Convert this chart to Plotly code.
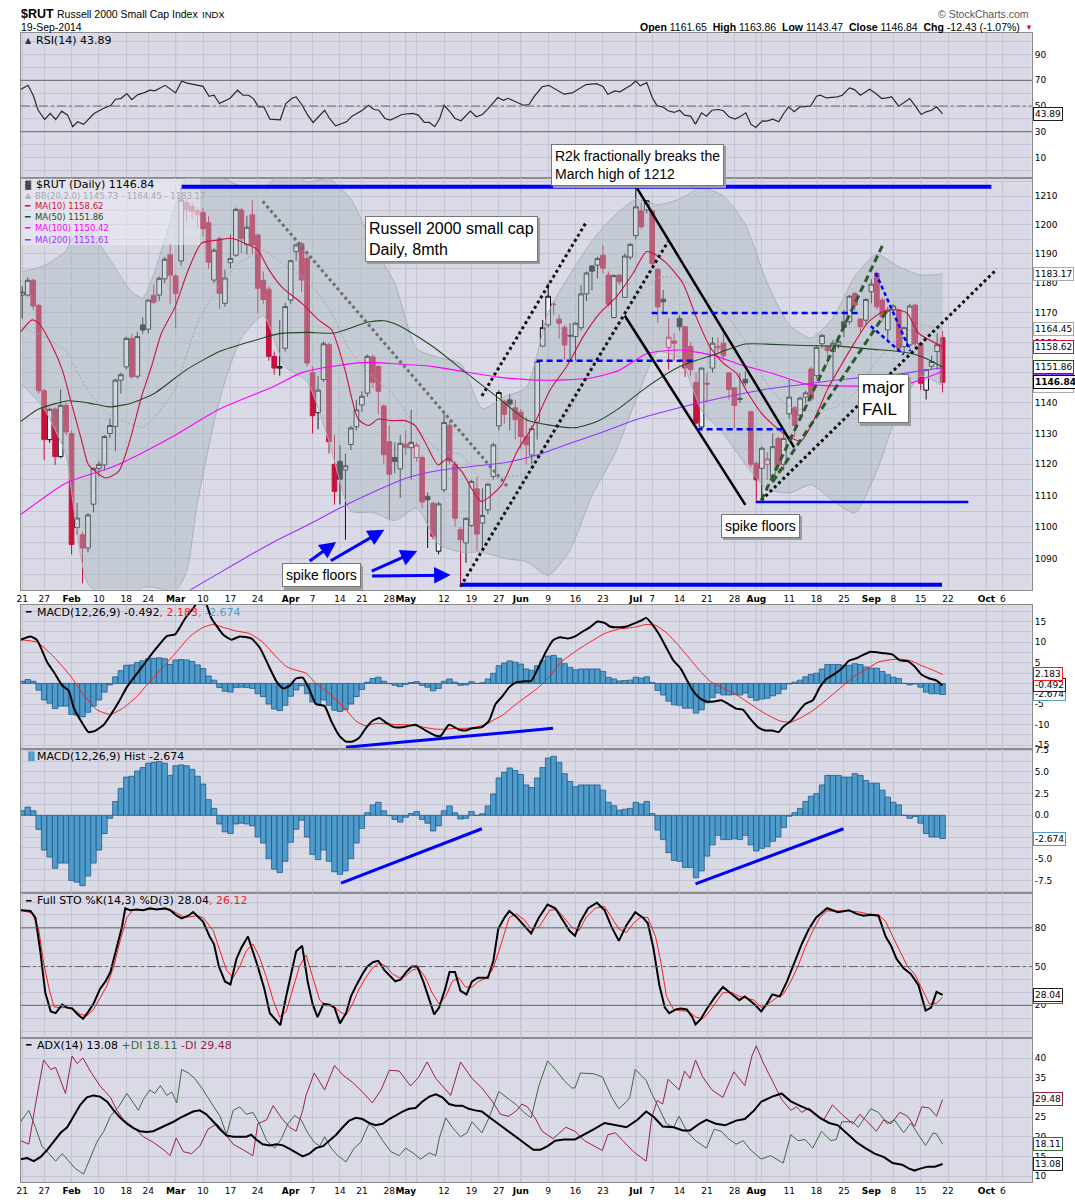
import math
import plotly.graph_objects as go

W, H = 1075, 1200

# ---------------------------------------------------------------- data
# trading-day index: 0 = 21 Jan 2014 ... 168 = 19 Sep 2014
OPEN = [1176, 1176, 1181, 1172.5, 1144, 1128, 1138, 1122.5, 1139.2, 1130,
        1099.8, 1097.5, 1093.3, 1107.2, 1118.7, 1119.8, 1130, 1132.3, 1147.5, 1151.9,
        1161.4, 1148.8, 1165.9, 1164.5, 1175.9, 1176, 1181.5, 1189.7, 1182.5, 1187.6,
        1207.7, 1206.5, 1205, 1204.3, 1200.8, 1181.1, 1195.3, 1173.2, 1187, 1189.6,
        1205.2, 1193.2, 1203.5, 1196.5, 1181, 1178, 1155.4, 1151.5, 1158.1, 1174.3,
        1190.8, 1193.5, 1188.5, 1150, 1136.8, 1147.7, 1159.3, 1120, 1121, 1118.2,
        1126.4, 1132.2, 1139.3, 1143.2, 1155.2, 1152, 1139, 1127.3, 1122.2, 1118.5,
        1126.5, 1125.4, 1122.2, 1122.2, 1109.7, 1107.5, 1092.3, 1111.8, 1132.7, 1120,
        1099.1, 1094.9, 1100.4, 1112.1, 1101.2, 1105.4, 1116.1, 1132.5, 1140.5, 1141,
        1138.4, 1137, 1129, 1123, 1133.7, 1158.8, 1165.9, 1172.8, 1167.8, 1165.1,
        1162.4, 1162, 1165, 1176.4, 1185.9, 1186.2, 1189.6, 1182.8, 1168.4, 1182.8,
        1175.2, 1188.9, 1196.3, 1204.9, 1205.2, 1205, 1184.8, 1174.6, 1158.4, 1160.5,
        1168.1, 1165.3, 1158.7, 1146.8, 1132.1, 1146.5, 1151.5, 1158.2, 1159.8, 1149.9,
        1145, 1141.5, 1147.8, 1137.1, 1120.3, 1118.7, 1120, 1116, 1128.4, 1120,
        1136.4, 1138.4, 1136, 1141.9, 1151.2, 1149, 1159.6, 1158.7, 1157, 1159.2,
        1167, 1167, 1176.5, 1167.9, 1167.5, 1177.1, 1183.4, 1174.3, 1164.2, 1171,
        1170.9, 1158.7, 1159.2, 1172.6, 1159.6, 1144.2, 1152.1, 1157, 1161.65]
HIGH = [1179, 1182, 1181.5, 1173, 1144.5, 1138.5, 1138.5, 1144.4, 1140, 1131,
        1107.6, 1098.5, 1104.3, 1119, 1121, 1129.5, 1135, 1148, 1150, 1162,
        1163, 1163.6, 1168.4, 1174.5, 1179.4, 1182.3, 1189, 1193.8, 1183, 1212.8,
        1209, 1208, 1206, 1206, 1203, 1192, 1196, 1184.6, 1196.7, 1206,
        1206, 1203.2, 1208.6, 1197, 1184, 1179, 1157, 1167.6, 1173.4, 1188,
        1193.7, 1194.2, 1190, 1152, 1148.8, 1160.4, 1160, 1129.5, 1126.2, 1123.5,
        1132.5, 1141, 1143.8, 1156, 1156, 1152.5, 1139.5, 1132.6, 1127.1, 1129.5,
        1131, 1137.7, 1127, 1123, 1111, 1108, 1108, 1136.8, 1134, 1121,
        1100, 1103, 1115, 1116, 1112.3, 1114, 1127, 1144.1, 1141, 1143,
        1141, 1138, 1135.4, 1132.6, 1153.7, 1167.6, 1180, 1174, 1169.4, 1165.8,
        1166.5, 1166.8, 1179.4, 1184, 1186.2, 1189.1, 1193.1, 1184, 1183, 1183,
        1190.2, 1193.7, 1213.5, 1207.7, 1208.6, 1205.2, 1185.1, 1177.7, 1168.1, 1163,
        1169.2, 1165.5, 1160, 1150, 1151.5, 1150, 1161.8, 1161.8, 1163.1, 1150,
        1145.2, 1149.9, 1150.4, 1137.5, 1121, 1125.7, 1124, 1130, 1129, 1131.6,
        1147.7, 1139, 1142, 1144, 1152, 1159, 1163, 1159, 1160.9, 1161,
        1170.9, 1176, 1177.1, 1168, 1174.9, 1181.4, 1184, 1175, 1172, 1173,
        1171.5, 1165.3, 1173, 1173, 1160, 1151, 1155.6, 1163.1, 1163.86]
LOW = [1168, 1175.5, 1171, 1143, 1121.4, 1127, 1119.8, 1122, 1129.5, 1091.3,
       1097.5, 1082.2, 1092, 1104.6, 1116, 1118, 1128.5, 1124.3, 1143, 1151,
       1148, 1148, 1163, 1163, 1173, 1174, 1180, 1173, 1164.8, 1186,
       1201, 1202, 1199, 1196, 1185, 1180, 1171.4, 1172, 1185, 1189,
       1190.3, 1189.8, 1190, 1169.8, 1173, 1154, 1149.3, 1149, 1157, 1173,
       1187.7, 1177, 1152, 1130, 1131.4, 1147, 1123.5, 1107.1, 1107.1, 1095.9,
       1124.6, 1131, 1137, 1142, 1145, 1136.3, 1120, 1102.2, 1117.1, 1109.2,
       1123, 1115, 1120.9, 1106, 1093.3, 1096, 1091.3, 1111, 1120, 1100,
       1081.2, 1088.7, 1100, 1092.3, 1093.3, 1104, 1115, 1131, 1133.2, 1131,
       1128, 1125, 1120, 1120, 1128, 1158.5, 1165, 1169.2, 1161.4, 1154.3,
       1154.3, 1154, 1164, 1174, 1177.6, 1181.6, 1183.4, 1172, 1168.1, 1179.5,
       1175, 1188, 1195, 1198.5, 1204, 1186, 1166.7, 1170, 1151, 1154,
       1164, 1148.6, 1148.8, 1133, 1131.6, 1140, 1150, 1156, 1154, 1141.1,
       1131.8, 1140, 1145.5, 1119, 1108.1, 1108.6, 1115, 1114, 1117, 1118,
       1134.7, 1128.9, 1135, 1140, 1140.5, 1148, 1158, 1152.6, 1147.7, 1158,
       1161.8, 1166, 1170.9, 1163.6, 1166, 1173.2, 1171, 1167, 1160.3, 1169,
       1157, 1156.5, 1158, 1158, 1144.2, 1141.1, 1151, 1151, 1143.47]
CLOSE = [1177, 1181, 1172.3, 1144, 1128, 1137.9, 1122.5, 1139.2, 1130.5, 1094.4,
         1102.8, 1093.3, 1103.8, 1118.7, 1120, 1129, 1132.6, 1147.5, 1149.3, 1161.4,
         1148.6, 1162, 1164.2, 1174.3, 1173.6, 1181.7, 1188.2, 1182.8, 1176.6, 1208.6,
         1205.2, 1204.6, 1203.5, 1198.7, 1187.2, 1191.3, 1176.6, 1181.8, 1188.5, 1205.4,
         1195.4, 1199.2, 1193.1, 1178.3, 1174.5, 1155.4, 1151.5, 1152, 1172.1, 1187.7,
         1193.1, 1181.1, 1153.2, 1135.8, 1144.2, 1159.6, 1127.3, 1111.3, 1115.2, 1119.5,
         1131.8, 1137.7, 1142.2, 1155.4, 1146.8, 1143.8, 1123.1, 1116.8, 1120.9, 1126.8,
         1125.5, 1127.1, 1126.2, 1107.9, 1108.6, 1097, 1107.3, 1133.6, 1121.1, 1102.7,
         1095.9, 1102.7, 1114.5, 1097.7, 1103.6, 1113.6, 1126.3, 1143.4, 1136.3, 1139.6,
         1134.5, 1129, 1126.3, 1131.6, 1153.7, 1165, 1175.6, 1172.9, 1166.5, 1159.2,
         1162.2, 1166.5, 1176.4, 1183.5, 1184.1, 1188.4, 1185.1, 1172.9, 1182.6, 1180.5,
         1189.3, 1193.3, 1206.3, 1199.4, 1208.4, 1186.7, 1172, 1173.7, 1161.8, 1159.8,
         1165.3, 1151.5, 1151, 1133.4, 1151.5, 1146.2, 1159.8, 1158.7, 1155.6, 1144.4,
         1139.2, 1141.2, 1146.6, 1120, 1115, 1125.2, 1121.7, 1125.7, 1119.8, 1128.4,
         1141.9, 1132.6, 1141.6, 1143.3, 1141.3, 1158.4, 1162.4, 1157.3, 1159.8, 1160.3,
         1165.1, 1175.6, 1172.6, 1165.3, 1174.5, 1179.7, 1172, 1168.6, 1170.9, 1172.3,
         1158.1, 1165, 1172.3, 1159.6, 1146.5, 1151, 1153.7, 1159.27, 1146.84]

# Bollinger bands (20,2)
BB_X = [0, 4, 8, 9, 12, 16, 20, 22, 24, 28, 30, 32, 36, 40, 44, 48, 52, 56, 60, 64,
        68, 72, 76, 80, 84, 88, 92, 96, 100, 104, 108, 112, 116, 120, 124, 128, 132,
        136, 140, 144, 148, 152, 156, 160, 164, 168]
BB_UP = [1184, 1186, 1191, 1195, 1198, 1188, 1177, 1175, 1183, 1207, 1217, 1224, 1217,
         1213.5, 1213, 1219, 1215, 1216, 1209, 1193, 1180, 1158, 1155, 1153, 1138, 1142,
         1145, 1170, 1183, 1194.5, 1203, 1208.8, 1207, 1209, 1213, 1210, 1200, 1180,
         1166, 1161.5, 1168.3, 1182.4, 1189.9, 1185.6, 1182.8, 1183.17]
BB_MID = [1165, 1162, 1157, 1154, 1144, 1136, 1133, 1132, 1135, 1145, 1156, 1166.6,
          1179.3, 1187.5, 1191.1, 1186.1, 1180.8, 1171.5, 1156.8, 1148.6, 1142.3, 1131.9,
          1124.5, 1123.3, 1115.1, 1115.9, 1117.1, 1127.3, 1137.7, 1152.3, 1162.8, 1174.8,
          1181.8, 1181.8, 1175.6, 1170.2, 1160.3, 1146.1, 1138.8, 1137.4, 1138.3, 1143.4,
          1153.9, 1161.6, 1165.8, 1164.45]
BB_LO = [1146, 1138, 1123, 1111, 1082, 1078, 1079, 1081, 1081, 1080, 1086, 1108, 1141,
         1161.5, 1169, 1152, 1147, 1127.5, 1105, 1104.6, 1102, 1106, 1094.5, 1092, 1092,
         1090, 1089, 1084.7, 1092.7, 1110, 1122.8, 1140.8, 1156.8, 1154.8, 1137.6, 1130,
         1120, 1112, 1110.8, 1113.4, 1108.3, 1104.4, 1117.9, 1137.6, 1148.8, 1145.73]

MA10_X = [-0.5, 1.8, 3, 5.5, 7.3, 9.1, 10.9, 12.1, 15.2, 17.6, 19.4, 21.8, 23.6, 25.4,
          27.9, 30.3, 32.7, 35.8, 38.2, 40.6, 43, 44.9, 47.3, 51.1, 54.1, 56.5, 58.9,
          61.3, 63.2, 65, 67.4, 69.9, 71.7, 73.5, 75.9, 77.7, 80.2, 83.8, 87.5, 90.3,
          93.3, 96.4, 99.4, 102.4, 105.4, 108.5, 111.5, 113.9, 115.2, 117.6, 120.6, 123,
          125.5, 127.9, 130.3, 132.4, 134.8, 137.3, 139.7, 142.2, 144.6, 147, 149.4,
          151.9, 154.3, 156.7, 159.1, 161.5, 163.6, 168]
MA10_Y = [1163.1, 1167.6, 1166.5, 1158.7, 1151, 1139, 1127.3, 1119.8, 1115.6, 1117.7,
          1126.2, 1142.2, 1152.1, 1163.1, 1172, 1184.5, 1193.7, 1194.8, 1195.4, 1193.7,
          1191.4, 1185, 1178.9, 1173.1, 1167.6, 1164.2, 1151, 1134.7, 1132.6, 1134.7,
          1134.2, 1134.2, 1132.6, 1127.3, 1119.8, 1121.9, 1117.7, 1108.1, 1113.3, 1124.1,
          1132.6, 1144.4, 1152.1, 1162, 1169.8, 1175.5, 1183.4, 1190.8, 1190.2, 1186.9,
          1180, 1168.7, 1158.7, 1153.2, 1149.9, 1143.4, 1136.9, 1132.5, 1129.2, 1127.6,
          1134.7, 1144.5, 1152.2, 1159.9, 1166.6, 1170, 1171.1, 1170, 1163.2, 1158.62]
MA50_X = [-0.5, 3, 8.5, 12, 16, 20, 24, 30, 36, 42, 47, 52, 57, 63, 66, 69, 75, 81, 87,
          92, 96, 101, 105, 109, 114, 120, 126, 132, 137, 143, 149, 155, 160, 163, 166, 168]
MA50_Y = [1133.6, 1138, 1140.7, 1140, 1138.7, 1140, 1143, 1151, 1157, 1160.5, 1163,
          1163.4, 1163.2, 1166.8, 1167.3, 1165.5, 1158.6, 1150, 1141.5, 1134.5, 1132.8,
          1131.9, 1134, 1138.3, 1145.2, 1152, 1155.8, 1159.5, 1159.4, 1159, 1158.8,
          1157.8, 1157, 1156, 1153.8, 1151.86]
MA100_X = [-0.5, 8, 17, 27, 36, 46, 51, 57, 63, 69, 75, 81, 87, 93, 99, 104, 109, 114,
           120, 126, 131, 137, 143, 149, 155, 162, 168]
MA100_Y = [1103.6, 1114, 1119.5, 1128.5, 1138, 1145.5, 1150, 1152.2, 1153.4, 1152.8,
           1152, 1150.2, 1148.5, 1147.6, 1147.6, 1148.3, 1150.8, 1156.3, 1157.5, 1155.8,
           1152.7, 1149.7, 1146.2, 1145.6, 1145.6, 1146.4, 1150.42]
MA200_X = [30, 36, 41, 46, 52, 58, 64, 70, 76, 82, 88, 94, 100, 106, 112, 118, 124, 130,
           136, 142, 148, 154, 160, 164, 168]
MA200_Y = [1079.5, 1085.5, 1090.5, 1095.3, 1100.5, 1106, 1111, 1115.5, 1118, 1119.3,
           1120.5, 1123, 1126.8, 1130.5, 1134.5, 1137.5, 1140.2, 1142.5, 1144.6, 1146,
           1147.4, 1148.5, 1149.5, 1150.6, 1151.61]

RSI_X = [-0.3, 1.05, 2, 2.9, 4.1, 5.1, 6.1, 7.2, 8.3, 9.2, 10.1, 11.2, 13.1, 14.8, 16.2,
         17, 18, 19.1, 20, 21.1, 22.2, 23.3, 24.2, 26.1, 28, 29.1, 29.9, 33, 34.1, 35, 36,
         38, 39.3, 40.3, 41.3, 42.2, 43.1, 44.1, 45.2, 46.1, 47.1, 48.1, 49.3, 50, 51.1,
         52.1, 53.1, 55.2, 56.1, 57.2, 58.2, 59.2, 60.2, 62.1, 63.2, 64.2, 65.1, 66.2,
         67.2, 69.3, 71.3, 72.3, 73.4, 74.3, 75.3, 76.2, 77, 78.1, 79, 80.1, 81.8, 82.9,
         84, 85.1, 86.8, 87.8, 88.7, 90.6, 91.5, 92.5, 93.4, 94.9, 96.1, 98.9, 100.4,
         102.9, 104.8, 106, 106.9, 108.2, 109.1, 111.1, 112, 112.8, 114, 115, 115.9,
         116.9, 117.9, 119, 120, 120.9, 122, 122.9, 124, 124.9, 125.9, 127.1, 128, 129,
         130.1, 131, 132.1, 133, 133.9, 135.1, 135.9, 137, 138.1, 139, 139.9, 140.9, 142,
         143.9, 145, 145.7, 146.8, 148.8, 149.7, 151, 151.9, 153, 154.7, 155.8, 156.9,
         157.8, 158.7, 160, 160.9, 162, 163, 164.1, 165, 166, 166.9, 168]
RSI_Y = [62.8, 66.1, 58.4, 46.7, 39.5, 44.2, 39.5, 46, 42.9, 33.9, 37.7, 35.7, 44.2, 48.1,
         50.6, 55.3, 55.8, 59.7, 55, 58.9, 60.2, 62.3, 61.8, 66.1, 60.2, 69.5, 68, 65.3,
         57.6, 58.4, 51.9, 56.3, 62.3, 58.4, 58.4, 55.8, 49.4, 49.4, 39.8, 39.3, 39.3,
         51.9, 56.3, 57.1, 50.6, 42.9, 37.2, 46.7, 40.3, 34.6, 36.4, 37.7, 42.1, 46.7,
         50.6, 47.3, 46.7, 40.3, 39, 43.4, 44.2, 42.9, 37.2, 37.2, 33.9, 40.3, 50.6, 45.5,
         40.3, 38.5, 46, 41.6, 43.4, 48.1, 56.6, 54.5, 56, 52.5, 50.6, 51.2, 57.1, 65,
         66.1, 59.2, 60.2, 66.7, 67.4, 65.3, 59.2, 61.8, 61, 66.1, 69.5, 65.7, 68.2, 56.6,
         50.1, 49.4, 46.3, 45, 46.7, 42.9, 42.1, 35.9, 44.7, 42.1, 46.7, 47.3, 46.3, 41.6,
         39.8, 41.6, 44.7, 35.9, 33.3, 38.5, 38.3, 39.8, 37.7, 44.2, 49.4, 45.5, 49.4,
         49.9, 57.6, 58.4, 56.3, 57.1, 58.4, 64.1, 62.8, 58.4, 63, 59.7, 55.8, 56.3, 57.1,
         49.9, 52.5, 55.8, 50.1, 43.4, 45.5, 46.7, 49.4, 43.89]

MACD_X = [-0.3, 1.5, 2.7, 4.6, 5.8, 7.3, 8.5, 9.4, 10.9, 12.1, 13.3, 14.9, 16.1, 17.6,
          19.1, 20.9, 22.7, 24.5, 26.4, 27.9, 29.7, 31.2, 32.5, 33.5, 34.5, 36.7, 38.2,
          39.7, 41.8, 43.4, 44.9, 46.4, 47.6, 48.8, 50, 51.2, 52.4, 53.6, 55.2, 56.4, 57.9,
          59.1, 60.3, 61.5, 62.7, 63.9, 65.2, 66.4, 67.9, 69.4, 71.8, 73.6, 75.5, 76.4,
          77.9, 79.7, 80.9, 82.1, 83.9, 85.2, 86.4, 87.6, 88.9, 90.2, 91.6, 92.9, 94.3,
          95.6, 96.9, 98.2, 99.6, 100.9, 102.2, 103.6, 105, 106.3, 107.3, 108.9, 110.3,
          111.6, 112.9, 113.9, 114.9, 116.3, 117.6, 118.9, 120.2, 121.3, 122.3, 123.6,
          124.9, 126.3, 127.6, 128.9, 130.3, 131.6, 132.9, 134.3, 135.6, 136.9, 138.1,
          138.9, 140.3, 141.6, 142.9, 144.3, 145.6, 146.9, 148.3, 149.6, 150.9, 152.3,
          153.6, 154.9, 156.3, 157.6, 158.9, 160.2, 161.6, 162.9, 164.2, 165.6, 166.9, 168]
MACD_Y = [10.6, 11.4, 10.5, 5, 2.7, -0.5, -1.8, -5.9, -9.5, -11.8, -11.5, -10, -7.7, -4.5,
          -0.9, 2.3, 5.5, 8.6, 11.5, 11.9, 15.7, 18.2, 20.5, 19.5, 15.9, 11.8, 10.6, 11.4,
          10.9, 8.6, 4.5, 0.5, -1.2, -0.6, 1.2, 1.4, -1.4, -5, -5.5, -9.1, -12.7, -14.1,
          -14.1, -13.2, -10.9, -9.1, -8.4, -9.5, -10.6, -10.6, -10, -11.4, -12.7, -12.7,
          -10, -11.2, -11.4, -10.9, -10.6, -9.1, -5, -3.2, -0.9, 0.3, 0.5, 0.6, 4.1, 7.7,
          10.5, 11.2, 10.9, 11.4, 12.5, 13.6, 15, 14.7, 13.8, 13.6, 13.8, 14.5, 15.2, 15.9,
          14.5, 11.8, 8.6, 5.5, 3.6, 0.9, -1.5, -3.5, -4.4, -4.4, -4.1, -5, -6.1, -6.4,
          -8.6, -10.6, -11.4, -11.4, -11.8, -10.5, -9.1, -7, -5, -4.1, -0.9, 1.2, 2.3, 3.6,
          5.5, 6.1, 7, 7.7, 7.5, 7.3, 7, 5.6, 5.4, 4.1, 2.1, 1.2, 0.7, -0.492]
SIG_X = [-0.3, 2.7, 5.8, 8.8, 11.2, 13.6, 16.1, 18.5, 20.9, 23.3, 25.8, 28.2, 30.6, 33,
         34.9, 36.7, 39.1, 41.5, 43.9, 46.4, 48.2, 50, 51.8, 53.6, 55.5, 57.3, 59.1, 60.9,
         62.7, 64.5, 66.4, 68.2, 70, 71.8, 73.6, 75.5, 77.3, 79.1, 80.9, 82.7, 84.6, 86.4,
         87.6, 89.6, 91.6, 94.3, 96.3, 98.2, 100.9, 103.6, 106.3, 108.9, 111.6, 113.9,
         115.6, 117.6, 119.6, 121.6, 123.6, 125.6, 127.6, 130.3, 132.9, 135.6, 138.3,
         140.3, 142.3, 144.3, 146.3, 148.3, 150.3, 152.3, 154.3, 156.3, 158.3, 160.2,
         162.2, 164.2, 166.3, 168]
SIG_Y = [10.6, 10, 6.4, 1.8, -2.7, -6.4, -7.5, -5.9, -3.2, 0.5, 4.1, 7.7, 11.4, 13.6,
         14.3, 13.6, 12.7, 12.1, 10, 6.4, 4.1, 3.2, 2.5, 0, -1.8, -4.1, -6.4, -9.1, -10.3,
         -9.7, -9.8, -10, -10, -10.3, -10.7, -11.1, -11.1, -10.9, -10.9, -10.6, -10, -8.6,
         -7.8, -5.6, -3.6, -0.9, 1.8, 5, 7.7, 10, 12.1, 13.2, 13.6, 14.3, 14.1, 12.3, 9.5,
         6.4, 3.2, 0.5, -0.9, -2.7, -5, -7.3, -9.1, -9.4, -8.2, -6.6, -4.5, -2.3, 0, 2.1,
         3.6, 5.2, 5.7, 5.9, 5.5, 4.3, 3.2, 2.183]
HIST = [0.52, 0.95, 0.52, -1.64, -4.0, -4.8, -6.1, -5.5, -5.5, -7.5,
        -7.7, -8.1, -7.0, -5.5, -4.0, -2.1, -0.35, 1.6, 3.1, 4.4,
        4.5, 5.1, 5.5, 6.0, 6.1, 6.2, 6.0, 4.6, 5.7, 5.8,
        5.7, 5.3, 4.5, 3.6, 1.8, 0.8, -1.0, -1.9, -2.1, -1.0,
        -0.9, -1.0, -1.2, -2.5, -3.2, -5.0, -6.2, -6.6, -5.3, -3.1,
        -1.6, -0.56, -2.5, -4.5, -5.1, -4.0, -5.3, -6.5, -6.8, -6.4,
        -5.0, -3.2, -1.5, 0.3, 1.2, 1.5, 0.52, -0.04, -0.47, -0.78,
        -0.22, 0.22, 0.43, -0.47, -0.91, -1.8, -1.2, 0.52, 1.08, 0.3,
        -0.43, -0.35, 0.43, 0.0, 0.17, 1.08, 2.46, 4.3, 4.95, 5.45,
        5.15, 4.7, 3.5, 3.2, 4.3, 5.5, 6.6, 6.8, 6.1, 4.8,
        3.9, 3.3, 3.5, 3.5, 3.5, 3.5, 2.9, 1.5, 1.1, 0.6,
        0.7, 0.8, 1.5, 1.3, 1.6, 0.2, -1.7, -2.8, -4.3, -5.2,
        -5.3, -6.0, -6.0, -7.2, -6.4, -4.7, -3.4, -2.3, -2.8, -2.8,
        -2.7, -2.8, -2.3, -3.4, -4.1, -3.8, -3.6, -3.0, -2.5, -1.4,
        -0.1, 0.3, 0.8, 1.6, 2.2, 2.5, 3.5, 4.6, 4.6, 4.6,
        4.4, 4.4, 4.8, 4.6, 4.0, 3.7, 3.7, 2.9, 2.1, 1.5,
        1.2, 0.0, -0.35, -0.13, -0.9, -2.1, -2.5, -2.5, -2.674]

STOK_X = [-0.3, 1.5, 2.4, 3.3, 4.2, 5.2, 6.1, 7.3, 8.2, 9.1, 10.1, 11.1, 12.1, 13, 14.2,
          15.2, 16.1, 17.3, 18.2, 18.8, 19.7, 20.9, 22.1, 23.3, 24.5, 26.1, 27, 28.2, 29.1,
          30.3, 31.2, 33, 34.2, 35, 35.9, 37, 38, 39.1, 40, 41.2, 42.1, 43, 44.2, 45.2,
          46.1, 47.1, 48.1, 49.1, 50, 51.1, 52.1, 53, 53.9, 55, 56.1, 57, 58, 59.1, 60, 61,
          62.1, 63, 64.1, 65, 66.1, 67.1, 68.1, 69.1, 70.1, 71.1, 72.1, 73.2, 74.1, 75.2,
          76.1, 77.2, 78, 79, 80, 81.1, 82.1, 83.2, 84.2, 85, 86, 86.9, 88, 88.9, 90.2,
          91.6, 92.9, 94.3, 95.9, 97.3, 98.6, 99.9, 100.9, 101.9, 103.3, 104.9, 106.3,
          107.6, 108.9, 110.3, 111.9, 113.3, 114.2, 115.2, 116.3, 117.3, 118.1, 119.3,
          120.2, 121.3, 122.3, 122.9, 123.9, 124.9, 126.3, 127.9, 129.6, 130.9, 131.9,
          133.6, 134.9, 135.9, 136.9, 138.3, 139.6, 140.9, 142.3, 143.6, 144.9, 146.9,
          148.9, 150.9, 152.3, 153.6, 154.9, 156.3, 157.6, 158.6, 159.6, 160.9, 162.2,
          163.6, 164.9, 165.9, 166.9, 168]
STOK_Y = [93.7, 93.1, 87.9, 61.8, 29.8, 15.3, 13.9, 20.5, 18.2, 17.6, 13, 9.5, 15.3, 21.1,
          32.7, 38.5, 45.8, 66.1, 80.6, 95.1, 93.7, 94.3, 93.7, 95.1, 94.3, 95.1, 93.7,
          89.4, 87.3, 89.4, 92.2, 84.9, 73.3, 67.5, 50.1, 38.5, 36.2, 55.9, 64.7, 73.3,
          61.8, 50.1, 32.7, 13.9, 9.5, 4.6, 25.5, 44.3, 61.8, 66.1, 38.5, 21.1, 10.9, 21.1,
          20.5, 18.2, 6, 13.9, 26.9, 35.6, 44.3, 50.1, 53.6, 54.5, 47.2, 42.9, 38.5, 40,
          45.8, 50.1, 50.1, 38.5, 26.9, 13, 18.2, 32.7, 45.8, 45.8, 31.3, 28.4, 38.5, 41.4,
          41.4, 41.4, 54.5, 79.2, 87.9, 93.1, 88.5, 82.1, 75.7, 87.9, 98.1, 95.2, 86.4,
          77.7, 73.9, 85, 95.2, 99.5, 93.7, 80.6, 69.9, 82.1, 92.2, 87.9, 83.6, 64.7, 35.6,
          18.2, 13.9, 16.8, 17.6, 16.8, 11, 5.2, 9.5, 16.8, 25.5, 34.2, 28.4, 24, 26.9,
          21.1, 15.3, 21.1, 28.4, 26.9, 38.5, 53, 67.5, 79.2, 87.9, 95.2, 92.2, 93.7, 90.8,
          89.4, 90.2, 89.4, 73.3, 66.1, 55.9, 48.7, 44.3, 35.6, 15.9, 18.2, 30.4, 28.04]
STOD_X = [-0.3, 1.8, 3, 3.9, 4.9, 5.8, 7, 8.2, 9.4, 10.6, 11.8, 13, 14.2, 15.5, 16.7,
          17.9, 19.1, 20.3, 21.5, 23.3, 25.2, 27, 28.2, 29.4, 30.6, 31.8, 33, 34.9, 36.1,
          37.3, 38.5, 39.7, 40.9, 42.1, 43.3, 44.6, 45.8, 47, 48.2, 49.4, 50.6, 51.8, 53,
          54.3, 55.5, 56.7, 57.9, 59.1, 60.3, 61.5, 62.7, 63.9, 65.2, 66.4, 67.6, 68.8, 70,
          71.2, 72.4, 73.6, 74.8, 76.1, 77.3, 78.5, 79.7, 80.9, 82.1, 83.3, 84.6, 85.8, 87,
          88.2, 88.9, 90.2, 91.6, 92.9, 94.3, 96.3, 97.6, 98.9, 100.3, 101.6, 102.9, 104.6,
          106.3, 107.6, 108.9, 110.3, 111.6, 112.9, 114.2, 115.6, 116.6, 117.6, 118.9,
          120.2, 121.6, 122.9, 124.2, 125.2, 126.6, 127.9, 129.6, 130.9, 132.3, 133.6,
          134.9, 136.2, 137.6, 138.9, 140.3, 141.6, 142.9, 144.3, 145.6, 146.9, 148.9,
          150.9, 152.9, 154.3, 156.3, 157.6, 158.9, 160.2, 161.6, 162.9, 164.2, 165.6,
          166.9, 168]
STOD_Y = [93.7, 91.4, 79.2, 53, 32.7, 18.8, 18.2, 18.2, 16.8, 13, 11.8, 16.8, 25.5, 35.6,
          50.1, 70.4, 87.9, 94.3, 93.7, 94.3, 94.3, 94.3, 91.4, 88.5, 88.5, 89.4, 87.9,
          77.7, 61.8, 47.2, 41.4, 50.1, 62.3, 67.5, 57.4, 41.4, 24, 11, 15.3, 32.7, 50.1,
          58.9, 41.4, 24, 19.7, 19.7, 15.3, 12.4, 21.1, 32.7, 41.4, 48.7, 53, 50.1, 44.3,
          41.4, 42.9, 47.2, 48.7, 41.4, 29.8, 21.1, 26.9, 38.5, 41.4, 34.2, 34.2, 38.5,
          40.9, 47.2, 61.8, 79.2, 87.9, 90.8, 86.4, 79.2, 80.6, 93.7, 94.3, 87.9, 80.6,
          77.7, 87.9, 95.2, 96.6, 87.9, 79.2, 76.3, 83.6, 88.5, 87.9, 73.3, 53, 26.9, 16.8,
          15.9, 15.3, 11, 9.5, 13.9, 22.6, 29.8, 29.8, 26.9, 25.5, 24, 18.2, 21.1, 25.5,
          28.4, 38.5, 50.1, 64.7, 77.7, 87.9, 93.1, 93.1, 93.1, 92.2, 90.8, 90.2, 85, 73.3,
          61.8, 50.1, 44.3, 32.7, 21.1, 21.7, 26.12]

ADX_X = [-0.3, 0.9, 2.1, 3.3, 4.6, 5.8, 7, 8.2, 9.4, 10.6, 11.8, 13, 14.2, 15.5, 16.7,
         17.9, 19.1, 20.3, 21.5, 22.7, 23.9, 25.2, 26.4, 27.6, 28.8, 30, 31.2, 32.4, 33.6,
         34.9, 36.1, 37.3, 38.5, 39.7, 40.9, 41.8, 42.7, 43.9, 45.2, 46.4, 47.6, 48.8, 50,
         51.2, 52.4, 53.6, 54.9, 56.1, 57.3, 58.5, 59.7, 60.9, 62.1, 63.3, 64.5, 65.8, 67,
         68.2, 69.4, 70.6, 71.8, 73, 74.3, 75.5, 76.7, 77.9, 79.1, 80.3, 81.5, 82.7, 83.9,
         85.2, 86.4, 87.6, 89.6, 91.6, 93.3, 94.6, 95.9, 97.3, 98.9, 100.9, 102.6, 104.3,
         106.3, 108.3, 110.3, 112.3, 113.9, 115.3, 116.9, 118.9, 120.6, 121.9, 123.6,
         124.9, 126.6, 128.3, 130.3, 131.9, 133.6, 134.9, 136.9, 138.6, 140.3, 141.9,
         143.9, 145.6, 147.3, 148.9, 150.6, 152.3, 153.9, 155.6, 157.3, 158.9, 160.6,
         161.9, 162.9, 163.9, 165.3, 166.6, 168]
ADX_Y = [14.3, 14.6, 13.8, 14.8, 16.7, 19, 21, 22.4, 25.2, 28.1, 30, 30.5, 30.2, 28.9,
         26.7, 24.8, 23.3, 22.2, 21.4, 21.2, 21.4, 22.2, 23.1, 23.8, 24.8, 25.7, 26.4,
         26.7, 25.7, 23.8, 21.9, 20.3, 20, 20, 20, 20.5, 19.3, 18.1, 17.8, 18.1, 17.8,
         16.9, 15.9, 15, 15.7, 17.1, 17.6, 19, 20.5, 22.4, 24.1, 24.8, 24.5, 23.5, 22.9,
         23.3, 24.5, 25.4, 26.4, 27.1, 27.3, 28.9, 30.2, 30.8, 30, 28.3, 27.9, 27.9, 27.1,
         26.7, 26.4, 25, 23.8, 22.5, 20.5, 18.6, 16.7, 16.7, 17.6, 19, 19.3, 19.3, 20.5,
         21.9, 23.5, 22.9, 22.4, 24.3, 26.4, 25, 22.6, 22.4, 21.6, 21.6, 23.3, 24.3, 23.3,
         22.9, 24.1, 24.5, 26.7, 28.9, 30.2, 31, 29, 27.9, 26.7, 24.8, 23.5, 22.9, 20.7,
         18.6, 17.1, 15.7, 14.8, 13.3, 12.9, 11.9, 11.4, 11.9, 12.4, 12.4, 13.08]
PDI_X = [-0.3, 1.2, 2.4, 3.6, 4.9, 6.1, 7.3, 8.5, 9.7, 11.2, 12.4, 13.6, 14.9, 16.1,
         17.6, 19.1, 20.3, 21.2, 22.1, 23.3, 24.2, 25.2, 26.4, 27.3, 28.2, 29.1, 30.3,
         31.5, 33, 34.6, 36.1, 37.3, 38.5, 39.7, 40.9, 42.1, 43.3, 44.6, 46.1, 47.3, 48.5,
         49.7, 50.9, 52.1, 53.3, 54.3, 55.2, 56.4, 57.6, 59.1, 60.6, 61.8, 63.3, 64.5,
         65.8, 67.3, 68.8, 70, 71.5, 72.7, 74.3, 75.5, 76.1, 77.3, 78.5, 80, 81.2, 82.1,
         83.9, 85.2, 87, 88.9, 90.2, 91.6, 92.9, 94.3, 95.9, 97.3, 98.9, 100.3, 100.9,
         101.9, 104.3, 105.9, 107.6, 108.9, 110.3, 110.9, 111.9, 113.9, 114.9, 116.3,
         117.6, 118.9, 119.9, 121.3, 122.9, 124.9, 126.3, 127.6, 128.9, 130.3, 131.6,
         132.9, 134.9, 136.6, 138.9, 140.3, 141.6, 142.9, 144.3, 145.9, 147.6, 148.6,
         149.6, 151.6, 152.6, 154.9, 156.3, 157.9, 159.2, 160.9, 162.2, 163.6, 164.9,
         166.3, 166.9, 168]
PDI_Y = [23.8, 26.7, 22.4, 17.6, 15.7, 13.8, 15.7, 13.8, 11.9, 10.5, 14.8, 18.6, 21.4,
         25.2, 27.6, 31, 28.6, 26.7, 29.5, 31.9, 31, 33, 30.5, 31.4, 28.6, 37.1, 36.2,
         34.8, 31.9, 28.6, 25.2, 20.5, 26.7, 27.6, 25.7, 26.2, 23.3, 19, 17.1, 19.5, 23.3,
         25.4, 24.3, 21, 18.6, 17.6, 20, 17.1, 15.2, 13.6, 17.1, 18.6, 23.3, 21.9, 19,
         16.2, 15.2, 17.1, 15.7, 14.3, 15.9, 15.2, 19.5, 24.8, 22.4, 20, 21, 23.8, 21,
         24.8, 31.5, 29.5, 28.1, 26.2, 24.8, 32.9, 39.3, 37.1, 34.3, 32.4, 32.4, 36.2, 36,
         35.2, 30, 27.1, 28.9, 30, 37.1, 34.3, 31, 27.1, 23.3, 22.4, 25.2, 21.4, 19, 17.1,
         21.9, 21.4, 19.5, 18.1, 19, 16.7, 14.3, 15.2, 13.3, 20.5, 19, 19.3, 17.1, 21.4,
         19, 19.3, 23.8, 23.8, 22.4, 27.1, 26.2, 23.3, 24.3, 21, 23.5, 20.5, 17.8, 21,
         20.7, 18.11]
MDI_X = [-0.3, 1.2, 2.4, 3.9, 5.2, 6.1, 7.9, 9.1, 10, 11.1, 12.4, 14.2, 16.1, 17.3, 18.5,
         20.3, 22.1, 23.9, 25.8, 27, 28.1, 29.4, 30.9, 32.4, 33.9, 35.5, 36.7, 38.5, 40.3,
         42.1, 43, 44.6, 45.8, 47.3, 48.8, 50, 51.2, 51.8, 53.3, 55.2, 57, 58.5, 60.3,
         62.1, 63.9, 65.5, 67, 68.8, 70.9, 72.4, 73.9, 75.5, 76.7, 78.2, 80, 82.1, 83.9,
         85.8, 87.3, 88.8, 90.3, 91.2, 92.2, 93.6, 94.9, 96.9, 99.2, 100.9, 102.6, 104.3,
         105.9, 106.9, 108.3, 109.6, 111.6, 112.9, 113.9, 114.9, 115.9, 116.9, 117.9,
         119.9, 120.9, 121.9, 122.9, 124.2, 125.9, 127.9, 129.9, 131.9, 133.2, 134, 135.2,
         136.9, 138.6, 140.3, 141.3, 142.3, 143.6, 144.9, 146.3, 147.9, 149.6, 151.6,
         152.9, 154.3, 155.9, 157.3, 158.6, 160.2, 161.6, 162.9, 164.2, 165.6, 166.9, 168]
MDI_Y = [19, 18.1, 28.1, 39.5, 37.1, 37.6, 31, 40.5, 38.6, 40, 36.7, 32.9, 30, 26.7,
         24.3, 22.4, 20, 18.6, 16.7, 15.2, 19.7, 16.2, 15.7, 17.6, 21.9, 23.3, 21.4, 18.1,
         16.7, 15.2, 23.3, 24.3, 27.9, 24.8, 22.4, 21.4, 26.7, 30.5, 36.2, 31.9, 38.1,
         35.7, 33.8, 31.4, 28.6, 31.9, 36.9, 36.7, 32.9, 35.2, 39, 34.8, 32.9, 30.5, 39,
         34.8, 32.4, 29, 25.7, 25.2, 26.7, 28.3, 27.6, 24.8, 21.4, 19.5, 22.4, 21.4, 19,
         17.6, 16.5, 20.5, 21, 19, 16.2, 14.8, 13.8, 24.8, 29.2, 28.3, 34.6, 31.9, 36.7,
         34.8, 39.5, 35.2, 31.9, 30, 36.5, 33, 40.5, 43.1, 39, 34.3, 29.5, 26.7, 27.6,
         26.2, 27.3, 25.7, 24.3, 28.1, 25.7, 23.3, 25.7, 23.8, 21.4, 24.3, 23.3, 26.2,
         25.2, 22.6, 27.6, 27.3, 25.2, 29.48]

# date axis (trading-day positions) and labels
TICK_POS = [0, 4, 9, 14, 19, 23, 28, 33, 38, 43, 49, 53, 58, 62, 67, 70, 72, 77, 82, 87,
            91, 96, 101, 106, 112, 115, 120, 125, 130, 134, 135, 140, 145, 150, 155, 159,
            164, 169, 176, 179]
TICK_TEXT = ['21', '27', '<b>Feb</b>', '10', '18', '24', '<b>Mar</b>', '10', '17', '24',
             '<b>Apr</b>', '7', '14', '21', '28', '<b>May</b>', '', '12', '19', '27',
             '<b>Jun</b>', '9', '16', '23', '<b>Jul</b>', '7', '14', '21', '28',
             '<b>Aug</b>', '', '11', '18', '25', '<b>Sep</b>', '8', '15', '22',
             '<b>Oct</b>', '6']
MONTH_POS = [9, 28, 49, 70, 91, 112, 134, 155, 176]

# hand-drawn notes on the price panel: x0, y0, x1, y1, colour, dash, width
NOTE_LINES = [
    (29.1, 1213.3, 176.9, 1213.3, '#0000ff', 'solid', 4),
    (80.0, 1081.8, 167.9, 1081.8, '#0000ff', 'solid', 4),
    (133.9, 1107.9, 172.7, 1107.9, '#0000ff', 'solid', 2.5),
    (43.9, 1208.2, 88.7, 1112.6, '#6e6e6e', '3px,3px', 3),
    (80.0, 1081.2, 117.9, 1194.3, '#111111', '3px,3px', 3),
    (83.9, 1142.3, 103.0, 1201.1, '#111111', '3px,3px', 3),
    (134.9, 1108.4, 177.9, 1184.8, '#111111', '3px,3px', 3),
    (112.0, 1213.5, 140.9, 1125.5, '#000000', 'solid', 2.5),
    (110.0, 1169.0, 132.0, 1107.0, '#000000', 'solid', 2.5),
    (134.9, 1108.4, 157.0, 1192.8, '#2d5a2d', '7px,4px', 3),
    (137.0, 1114.3, 158.2, 1171.6, '#2d5a2d', '7px,4px', 3),
    (93.9, 1153.9, 122.6, 1153.9, '#0000ff', '6px,4px', 2.5),
    (114.9, 1169.9, 152.7, 1169.9, '#0000ff', '6px,4px', 2.5),
    (123.1, 1131.4, 139.1, 1131.4, '#0000ff', '6px,4px', 2.5),
    (155.8, 1183.5, 162.1, 1157.2, '#0000ff', '4px,3px', 2.5),
    (154.9, 1165.5, 160.9, 1156.0, '#0000ff', '4px,3px', 2.5),
]
# spike-floor arrows: tip (index, price), tail offset in px
SPIKE_ARROWS = [(57.3, 1095.2, -28, 20), (66.1, 1099.1, -55, 32),
                (72.1, 1092.4, -47, 21), (78.2, 1084.8, -80, 1)]
MACD_NOTE = (59.1, -15.5, 96.9, -10.9)
HIST_NOTES = [(58.2, -7.8, 83.9, -1.55), (122.9, -7.9, 149.9, -1.55)]

# ---------------------------------------------------------------- layout helpers
def px(x):
    return x / W


def py(y):
    return 1 - y / H


RED = '#c8103c'
BG = '#dadae7'
GRID = '#c4c4d4'
BORDER = '#8c8c8c'
FONT = 'DejaVu Sans'
ARIAL = 'Liberation Sans'

XD = [px(17), px(1031.7)]
DOMAINS = {
    '': [py(174.3), py(29.3)],
    '2': [py(588.3), py(174.3)],
    '3': [py(748.1), py(603.2)],
    '4': [py(893), py(748.1)],
    '5': [py(1037.9), py(893)],
    '6': [py(1183.3), py(1037.9)],
}

fig = go.Figure()

# ---------------------------------------------------------------- RSI
fig.add_trace(go.Scatter(x=RSI_X, y=RSI_Y, mode='lines', xaxis='x', yaxis='y',
                         line=dict(color='#2a2a2a', width=1.2), hoverinfo='skip'))

# ---------------------------------------------------------------- price
fig.add_trace(go.Scatter(x=BB_X, y=BB_UP, mode='lines', xaxis='x2', yaxis='y2',
                         line=dict(color='#aab0b8', width=1, shape='spline', smoothing=0.6),
                         hoverinfo='skip'))
fig.add_trace(go.Scatter(x=BB_X, y=BB_LO, mode='lines', xaxis='x2', yaxis='y2',
                         fill='tonexty', fillcolor='rgba(168,184,190,0.45)',
                         line=dict(color='#aab0b8', width=1, shape='spline', smoothing=0.6),
                         hoverinfo='skip'))
fig.add_trace(go.Scatter(x=BB_X, y=BB_MID, mode='lines', xaxis='x2', yaxis='y2',
                         line=dict(color='#a4a4ac', width=1, dash='2px,2px',
                                   shape='spline', smoothing=0.6),
                         hoverinfo='skip'))

for xs, ys, col in [(MA200_X, MA200_Y, '#9933ff'), (MA100_X, MA100_Y, '#ff00ff'),
                    (MA50_X, MA50_Y, '#1e4d1e')]:
    fig.add_trace(go.Scatter(x=xs, y=ys, mode='lines', xaxis='x2', yaxis='y2',
                             line=dict(color=col, width=1.1, shape='spline', smoothing=0.6),
                             hoverinfo='skip'))

# candles: black outline when the close is up on the day before, red when down
idx = list(range(len(CLOSE)))
up = [i for i in idx if i == 0 or CLOSE[i] >= CLOSE[i - 1]]
dn = [i for i in idx if i > 0 and CLOSE[i] < CLOSE[i - 1]]
for sel, col in [(up, '#111111'), (dn, RED)]:
    fig.add_trace(go.Candlestick(
        x=sel, open=[OPEN[i] for i in sel], high=[HIGH[i] for i in sel],
        low=[LOW[i] for i in sel], close=[CLOSE[i] for i in sel],
        xaxis='x2', yaxis='y2', whiskerwidth=0,
        increasing=dict(line=dict(color=col, width=1), fillcolor='#f0f0f6'),
        decreasing=dict(line=dict(color=col, width=1), fillcolor=col),
        hoverinfo='skip', showlegend=False))

fig.add_trace(go.Scatter(x=MA10_X, y=MA10_Y, mode='lines', xaxis='x2', yaxis='y2',
                         line=dict(color='#d0103a', width=1.1, shape='spline', smoothing=0.6),
                         hoverinfo='skip'))

for x0, y0, x1, y1, col, dash, wd in NOTE_LINES:
    fig.add_trace(go.Scatter(x=[x0, x1], y=[y0, y1], mode='lines', xaxis='x2', yaxis='y2',
                             line=dict(color=col, width=wd, dash=dash), hoverinfo='skip'))

# ---------------------------------------------------------------- MACD
bar_style = dict(color='#4f9ccc', line=dict(color='#1f5a84', width=0.8))
fig.add_trace(go.Bar(x=idx, y=HIST, xaxis='x3', yaxis='y3', width=1.0,
                     marker=bar_style, hoverinfo='skip'))
fig.add_trace(go.Scatter(x=SIG_X, y=SIG_Y, mode='lines', xaxis='x3', yaxis='y3',
                         line=dict(color='#ff1a1a', width=1, shape='spline', smoothing=0.5),
                         hoverinfo='skip'))
fig.add_trace(go.Scatter(x=MACD_X, y=MACD_Y, mode='lines', xaxis='x3', yaxis='y3',
                         line=dict(color='#000000', width=2, shape='spline', smoothing=0.5),
                         hoverinfo='skip'))
fig.add_trace(go.Scatter(x=[MACD_NOTE[0], MACD_NOTE[2]], y=[MACD_NOTE[1], MACD_NOTE[3]],
                         mode='lines', xaxis='x3', yaxis='y3',
                         line=dict(color='#0000ff', width=3), hoverinfo='skip'))

# ---------------------------------------------------------------- MACD histogram
fig.add_trace(go.Bar(x=idx, y=HIST, xaxis='x4', yaxis='y4', width=1.0,
                     marker=bar_style, hoverinfo='skip'))
for x0, y0, x1, y1 in HIST_NOTES:
    fig.add_trace(go.Scatter(x=[x0, x1], y=[y0, y1], mode='lines', xaxis='x4', yaxis='y4',
                             line=dict(color='#0000ff', width=3), hoverinfo='skip'))

# ---------------------------------------------------------------- stochastics
fig.add_trace(go.Scatter(x=STOD_X, y=STOD_Y, mode='lines', xaxis='x5', yaxis='y5',
                         line=dict(color='#ff1a1a', width=1), hoverinfo='skip'))
fig.add_trace(go.Scatter(x=STOK_X, y=STOK_Y, mode='lines', xaxis='x5', yaxis='y5',
                         line=dict(color='#000000', width=2), hoverinfo='skip'))

# ---------------------------------------------------------------- ADX
fig.add_trace(go.Scatter(x=PDI_X, y=PDI_Y, mode='lines', xaxis='x6', yaxis='y6',
                         line=dict(color='#3d6b3d', width=1), hoverinfo='skip'))
fig.add_trace(go.Scatter(x=MDI_X, y=MDI_Y, mode='lines', xaxis='x6', yaxis='y6',
                         line=dict(color='#9b1f4e', width=1), hoverinfo='skip'))
fig.add_trace(go.Scatter(x=ADX_X, y=ADX_Y, mode='lines', xaxis='x6', yaxis='y6',
                         line=dict(color='#000000', width=2), hoverinfo='skip'))

# ---------------------------------------------------------------- axes
layout = dict(width=W, height=H, margin=dict(l=0, r=0, t=0, b=0),
              paper_bgcolor='white', plot_bgcolor=BG, showlegend=False,
              boxgap=0.15, boxgroupgap=0, font=dict(family=FONT, size=9, color='black'))

axis_common = dict(showline=True, mirror=True, linecolor=BORDER, linewidth=1,
                   gridcolor=GRID, gridwidth=1, zeroline=False, ticks='',
                   tickfont=dict(family=FONT, size=9, color='black'))
for k in ['', '2', '3', '4', '5', '6']:
    xa = dict(axis_common, domain=XD, anchor='y' + k, range=[-0.24, 184.3],
              tickmode='array', tickvals=TICK_POS, ticktext=TICK_TEXT, tickangle=0,
              showticklabels=k in ('2', '6'))
    if k:
        xa['matches'] = 'x'
    if k == '2':
        xa['rangeslider'] = dict(visible=False)
    layout['xaxis' + k] = xa


def yaxis(k, rng, vals, text, log=False):
    ya = dict(axis_common, domain=DOMAINS[k], anchor='x' + k, side='right',
              range=rng, tickmode='array', tickvals=vals, ticktext=text)
    if log:
        ya['type'] = 'log'
    return ya


rsi_vals = list(range(0, 101, 10))
layout['yaxis'] = yaxis('', [-5.7, 106.7], rsi_vals,
                        [str(v) if v in (10, 30, 50, 70, 90) else '' for v in rsi_vals])
price_vals = list(range(1085, 1216, 5))
layout['yaxis2'] = yaxis('2', [math.log10(1080.2), math.log10(1216.5)], price_vals,
                         [str(v) if v % 10 == 0 else '' for v in price_vals], log=True)
macd_vals = [v / 2 for v in range(-30, 39, 5)]
layout['yaxis3'] = yaxis('3', [-15.9, 19.1], macd_vals,
                         [('%d' % v) if v % 5 == 0 and v != 0 else '' for v in macd_vals])
hist_vals = [v / 4 for v in range(-35, 31, 5)]
layout['yaxis4'] = yaxis('4', [-8.98, 7.64], hist_vals,
                         [('%.1f' % v) if (v * 4) % 10 == 0 else '' for v in hist_vals])
sto_vals = list(range(0, 101, 10))
layout['yaxis5'] = yaxis('5', [-5, 106.8], sto_vals,
                         [str(v) if v in (20, 50, 80) else '' for v in sto_vals])
adx_vals = list(range(10, 46, 5))
layout['yaxis6'] = yaxis('6', [8.4, 45.2], adx_vals,
                         [str(v) if v <= 40 else '' for v in adx_vals])
fig.update_layout(**layout)

# ---------------------------------------------------------------- reference lines
shapes = []
for k in ['', '2', '3', '4', '5', '6']:
    for m in MONTH_POS:
        shapes.append(dict(type='line', xref='x' + k, yref='y%s domain' % k,
                           x0=m, x1=m, y0=0, y1=1, layer='below',
                           line=dict(color='#a6a6b8', width=1)))
for k, lev in [('', 70), ('', 30), ('5', 80), ('5', 20)]:
    shapes.append(dict(type='line', xref='x%s domain' % k, yref='y' + k, x0=0, x1=1,
                       y0=lev, y1=lev, line=dict(color='#666666', width=1)))
for k in ['', '5']:
    shapes.append(dict(type='line', xref='x%s domain' % k, yref='y' + k, x0=0, x1=1,
                       y0=50, y1=50, line=dict(color='#666666', width=1, dash='dashdot')))
# translucent legend box on the price panel (leaving the thick top line uncovered)
for x0, x1, y0, y1 in [(17.5, 197, 175.5, 181), (17.5, 177.5, 181, 186),
                       (17.5, 197, 186, 242)]:
    shapes.append(dict(type='rect', xref='paper', yref='paper', x0=px(x0), x1=px(x1),
                       y0=py(y1), y1=py(y0), fillcolor='rgba(236,236,244,0.55)',
                       line=dict(width=0), layer='above'))
fig.update_layout(shapes=shapes)

# ---------------------------------------------------------------- text
ann = []


def text(x, y, s, size=11, color='black', family=FONT, anchor='left', **kw):
    ann.append(dict(xref='paper', yref='paper', x=px(x), y=py(y), text=s,
                    showarrow=False, xanchor=anchor, yanchor='middle',
                    font=dict(family=family, size=size, color=color), **kw))


# header
text(15, 10, '<b>$RUT</b>', size=12.5, family=ARIAL)
text(51, 10.5, 'Russell 2000 Small Cap Index', size=10.5, family=ARIAL)
text(197, 11, 'INDX', size=9.5, family=ARIAL)
text(15, 23.5, '19-Sep-2014', size=10.5, family=ARIAL)
text(1031, 10.5, '\u00a9 StockCharts.com', size=10.5, color='#555555', family=ARIAL,
     anchor='right')
text(1022, 23.5, '<b>Open</b> 1161.65  <b>High</b> 1163.86  <b>Low</b> 1143.47  '
     '<b>Close</b> 1146.84  <b>Chg</b> -12.43 (-1.07%)', size=10.5, family=ARIAL,
     anchor='right')
text(1023, 23.5, '\u25bc', size=8, color=RED, family=ARIAL)

# panel legends
text(19, 36.5, '\u25b2', size=8, color='#333333')
text(30, 36.5, 'RSI(14) 43.89', size=11)
text(19, 181.5, '\u2593', size=8, color='#333333')
text(30, 181.5, '$RUT (Daily) 1146.84', size=11)
text(19, 192.7, '\u25b2', size=8, color='#b4b4b8')
text(29, 192.7, 'BB(20,2.0) 1145.73 - 1164.45 - 1183.17', size=8.5, color='#a8a8ae')
for yy, lab, col in [(203.3, 'MA(10) 1158.62', '#d0103a'),
                     (214.3, 'MA(50) 1151.86', '#1e4d1e'),
                     (225.3, 'MA(100) 1150.42', '#ff00ff'),
                     (236.7, 'MA(200) 1151.61', '#9933ff')]:
    text(18, yy, '\u2501', size=9, color=col)
    text(29, yy, lab, size=8.5, color=col)
text(19, 610.7, '\u2501', size=9)
text(31, 610.7, 'MACD(12,26,9) -0.492<span style="color:#ff1a1a">, 2.183</span>'
     '<span style="color:#4f9ccc">, -2.674</span>', size=11)
text(19, 755.6, '\u2590\u258c', size=8, color='#4f9ccc')
text(31, 755.6, 'MACD(12,26,9) Hist -2.674', size=11)
text(19, 900.5, '\u2501', size=9)
text(31, 900.5, 'Full STO %K(14,3) %D(3) 28.04<span style="color:#ff1a1a">, 26.12</span>',
     size=11)
text(19, 1045.4, '\u2501', size=9)
text(31, 1045.4, 'ADX(14) 13.08 <span style="color:#3d6b3d">+DI 18.11</span> '
     '<span style="color:#9b1f4e">-DI 29.48</span>', size=11)


# note boxes (with a soft drop shadow)
def note(x, y, s, size):
    for dx, bg, fc, bc in [(2.5, '#9c9c9c', 'rgba(0,0,0,0)', '#9c9c9c'),
                           (0, 'white', 'black', '#777777')]:
        ann.append(dict(xref='paper', yref='paper', x=px(x + dx), y=py(y + dx),
                        text=s, showarrow=False, xanchor='left', yanchor='top',
                        align='left', bgcolor=bg, bordercolor=bc, borderwidth=1,
                        borderpad=3, font=dict(family=ARIAL, size=size, color=fc)))


note(548.6, 140.1, 'R2k fractionally breaks the<br>March high of 1212', 14)
note(362.3, 212.7, 'Russell 2000 small cap<br>Daily, 8mth', 16)
note(279, 561.7, 'spike floors', 14)
note(719.3, 511.7, 'spike floors', 14)
note(856.7, 371.7, 'major<br>FAIL', 17)

# spike-floor arrows
for xi, pr, ax, ay in SPIKE_ARROWS:
    ann.append(dict(xref='x2', yref='y2', x=xi, y=math.log10(pr), ax=ax, ay=ay,
                    text='', showarrow=True, arrowhead=2, arrowsize=1.1,
                    arrowwidth=3, arrowcolor='#0000ff'))


# right-hand value tags
def tag(yref, val, s, col, bold=False, log=False):
    ann.append(dict(xref='paper', yref=yref, x=px(1033),
                    y=math.log10(val) if log else val,
                    text='<b>%s</b>' % s if bold else s, showarrow=False,
                    xanchor='left', yanchor='middle', bgcolor='white',
                    bordercolor=col, borderwidth=1, borderpad=1,
                    font=dict(family=FONT, size=9, color='black')))


tag('y', 43.89, '43.89', '#222222')
for v, s, col, b in [(1145.73, '1145.73', '#a8a8ae', False),
                     (1150.42, '1150.42', '#ff00ff', False),
                     (1151.61, '1151.61', '#9933ff', False),
                     (1151.86, '1151.86', '#1e4d1e', False),
                     (1146.84, '1146.84', '#000000', True),
                     (1158.62, '1158.62', '#d0103a', False),
                     (1164.45, '1164.45', '#a8a8ae', False),
                     (1183.17, '1183.17', '#a8a8ae', False)]:
    tag('y2', v, s, col, bold=b, log=True)
tag('y3', -2.674, '-2.674', '#4f9ccc')
tag('y3', -0.492, '-0.492', '#222222')
tag('y3', 2.183, '2.183', '#ff1a1a')
tag('y4', -2.674, '-2.674', '#4f9ccc')
tag('y5', 26.12, '26.12', '#ff1a1a')
tag('y5', 28.04, '28.04', '#222222')
tag('y6', 29.48, '29.48', '#9b1f4e')
tag('y6', 18.11, '18.11', '#3d6b3d')
tag('y6', 13.08, '13.08', '#222222')

fig.update_layout(annotations=ann)
fig.write_html('out.html', config={'displayModeBar': False},
               post_script="document.body.style.margin='0px';"
                           "document.body.style.overflow='hidden';")
